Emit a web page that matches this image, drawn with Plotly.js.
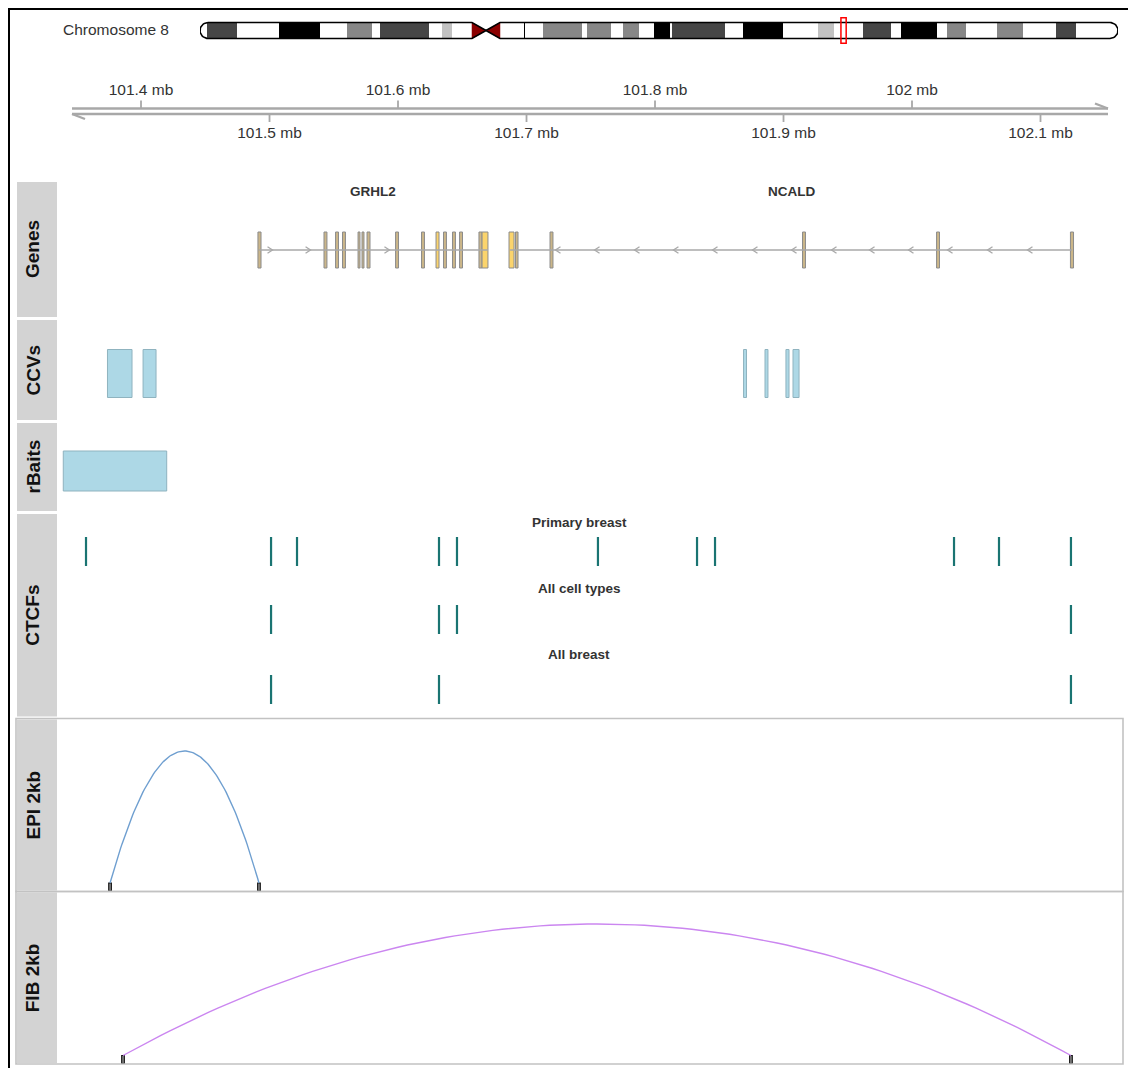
<!DOCTYPE html>
<html><head><meta charset="utf-8">
<script src="https://cdn.plot.ly/plotly-3.0.1.min.js"></script>
<style>html,body{margin:0;padding:0;background:#fff}</style>
</head><body><div id="chart" style="width:1128px;height:1068px"></div>
<script>
// ================= DATA =================
const chromosomeName = 'Chromosome 8';
const chromLength = 145.14; // Mb
const bandStart = [0, 1.11, 5.85, 12.49, 18.97, 23.24, 27.19, 28.46, 36.21, 38.26, 39.84, 43.00, 45.22, 47.43, 51.15, 51.46, 54.23, 60.40, 61.19, 64.98, 66.88, 69.41, 71.78, 74.31, 74.62, 83.00, 85.85, 92.17, 97.71, 100.24, 104.82, 109.25, 110.83, 116.52, 118.10, 121.11, 126.01, 130.12, 135.34, 138.50];
const bandEnd   = [1.11, 5.85, 12.49, 18.97, 23.24, 27.19, 28.46, 36.21, 38.26, 39.84, 43.00, 45.22, 47.43, 51.15, 51.46, 54.23, 60.40, 61.19, 64.98, 66.88, 69.41, 71.78, 74.31, 74.62, 83.00, 85.85, 92.17, 97.71, 100.24, 104.82, 109.25, 110.83, 116.52, 118.10, 121.11, 126.01, 130.12, 135.34, 138.50, 145.14];
const bandStain = ['gneg','gpos75','gneg','gpos100','gneg','gpos50','gneg','gpos75','gneg','gpos25','gneg','acen','acen','gneg','gpos100','gneg','gpos50','gneg','gpos50','gneg','gpos50','gneg','gpos100','gneg','gpos75','gneg','gpos100','gneg','gpos25','gneg','gpos75','gneg','gpos100','gneg','gpos50','gneg','gpos50','gneg','gpos75','gneg'];

const viewRange = [101.3354, 102.1642]; // Mb shown in the tracks
const axisTicksTop = [101.4, 101.6, 101.8, 102.0];
const axisTicksBottom = [101.5, 101.7, 101.9, 102.1];

const geneNames = ['GRHL2', 'NCALD'];
const geneStart = [101.4918, 101.6872];
const geneEnd = [101.6700, 102.1245];
const geneStrand = ['+', '-'];

const exonGene  = [0,0,0,0,0,0,0,0,0,0,0,0,0,0,0,1,1,1,1,1,1];
const exonStart = [101.4910, 101.5424, 101.5514, 101.5568, 101.5689, 101.5720, 101.5759, 101.5981, 101.6183, 101.6296, 101.6354, 101.6424, 101.6479, 101.6630, 101.6654, 101.6864, 101.6914, 101.7183, 101.9148, 102.0191, 102.1233];
const exonEnd   = [101.4934, 101.5447, 101.5537, 101.5591, 101.5704, 101.5735, 101.5782, 101.6004, 101.6206, 101.6319, 101.6377, 101.6447, 101.6502, 101.6654, 101.6700, 101.6903, 101.6934, 101.7206, 101.9171, 102.0214, 102.1257];
const exonIsUtr = [0,0,0,0,0,0,0,0,0,1,0,0,0,0,1,1,0,0,0,0,0];

const strandArrowGene = [0,0,0,1,1,1,1,1,1,1,1,1,1,1,1,1];
const strandArrowPos  = [101.5004, 101.5300, 101.5914, 101.7245, 101.7549, 101.7860, 101.8163, 101.8467, 101.8778, 101.9082, 101.9393, 101.9689, 101.9992, 102.0296, 102.0607, 102.0918];

const ccvStart = [101.3739, 101.4016, 101.8689, 101.8856, 101.9019, 101.9074];
const ccvEnd   = [101.3930, 101.4117, 101.8712, 101.8879, 101.9043, 101.9121];

const rbaitStart = [101.3395];
const rbaitEnd   = [101.4200];

const ctcfGroupNames = ['Primary breast', 'All cell types', 'All breast'];
const ctcfPrimaryBreast = [101.3572, 101.5012, 101.5214, 101.6319, 101.6459, 101.7556, 101.8327, 101.8467, 102.0327, 102.0677, 102.1237];
const ctcfAllCellTypes  = [101.5012, 101.6319, 101.6459, 102.1237];
const ctcfAllBreast     = [101.5012, 101.6319, 102.1237];

const epiAnchor1 = [101.3759];
const epiAnchor2 = [101.4918];
const fibAnchor1 = [101.3860];
const fibAnchor2 = [102.1237];
const anchorWidth = 0.002; // 2kb bins

const trackNames = ['Genes', 'CCVs', 'rBaits', 'CTCFs', 'EPI 2kb', 'FIB 2kb'];

// ================= LAYOUT HELPERS =================
const W = 1128, H = 1068;
const FONT = 'Liberation Sans, Arial, Helvetica, sans-serif';
const fx = p => p / W;
const fy = p => 1 - p / H;
const DX0 = 58, DX1 = 1123;
const pxPerMb = (DX1 - DX0) / (viewRange[1] - viewRange[0]);
const mbOf = px => px / pxPerMb;
const IX0 = 200, IX1 = 1118;
const ideoScale = (IX1 - IX0) / chromLength;

function pxAxis(top, bottom) {
  return {domain: [fy(bottom), fy(top)], range: [bottom, top], visible: false, fixedrange: true, anchor: 'x'};
}

const traces = [], shapes = [], annotations = [];
const base = {hoverinfo: 'skip', showlegend: false};

// ================= IDEOGRAM =================
const stainColor = {gneg: '#ffffff', gpos25: '#c2c2c2', gpos50: '#878787', gpos75: '#464646', gpos100: '#000000', acen: '#8b0000'};
const plainIdx = bandStain.map((s, i) => i).filter(i => bandStain[i] !== 'acen');
traces.push(Object.assign({
  type: 'bar', orientation: 'h', xaxis: 'x2', yaxis: 'y2',
  base: plainIdx.map(i => bandStart[i]),
  x: plainIdx.map(i => bandEnd[i] - bandStart[i]),
  y: plainIdx.map(() => 0.5), width: plainIdx.map(() => 1),
  marker: {color: plainIdx.map(i => stainColor[bandStain[i]]), line: {width: 0}}
}, base));
const acenIdx = bandStain.map((s, i) => i).filter(i => bandStain[i] === 'acen');
const cenS = bandStart[acenIdx[0]], cenM = bandEnd[acenIdx[0]], cenE = bandEnd[acenIdx[acenIdx.length - 1]];
traces.push(Object.assign({type: 'scatter', mode: 'lines', xaxis: 'x2', yaxis: 'y2', x: [cenS, cenS, cenM, cenS], y: [0, 1, 0.5, 0], fill: 'toself', fillcolor: stainColor.acen, line: {width: 0.5, color: stainColor.acen}}, base));
traces.push(Object.assign({type: 'scatter', mode: 'lines', xaxis: 'x2', yaxis: 'y2', x: [cenE, cenE, cenM, cenE], y: [0, 1, 0.5, 0], fill: 'toself', fillcolor: stainColor.acen, line: {width: 0.5, color: stainColor.acen}}, base));
// outline with rounded caps and centromere pinch
(function () {
  const capW = 8 / ideoScale;
  const ox = [], oy = [];
  for (let k = 0; k <= 20; k++) { const a = Math.PI / 2 + Math.PI * k / 20; ox.push(capW + capW * Math.cos(a)); oy.push(0.5 + 0.5 * Math.sin(a)); }
  ox.push(cenS, cenM, cenE, chromLength - capW); oy.push(0, 0.5, 0, 0);
  for (let k = 0; k <= 20; k++) { const a = -Math.PI / 2 + Math.PI * k / 20; ox.push(chromLength - capW + capW * Math.cos(a)); oy.push(0.5 + 0.5 * Math.sin(a)); }
  ox.push(cenE, cenM, cenS, capW); oy.push(1, 0.5, 1, 1);
  traces.push(Object.assign({type: 'scatter', mode: 'lines', xaxis: 'x2', yaxis: 'y2', x: ox, y: oy, line: {color: '#000', width: 1.6}}, base));
})();
shapes.push({type: 'rect', xref: 'x2', yref: 'y2', x0: viewRange[0], x1: viewRange[1], y0: -0.3, y1: 1.3, line: {color: '#ff0000', width: 1.5}, fillcolor: 'rgba(0,0,0,0)'});
annotations.push({xref: 'paper', yref: 'paper', x: fx(171), y: fy(30), xanchor: 'right', yanchor: 'middle', showarrow: false, text: chromosomeName, font: {family: FONT, size: 15.5, color: '#333'}});

// ================= GENOME AXIS =================
const AX_TOP = 108.5, AX_BOT = 114;
const axStart = viewRange[0] + mbOf(14), axEnd = viewRange[1] - mbOf(15);
const axColor = '#a8a8a8';
traces.push(Object.assign({type: 'scatter', mode: 'lines', xaxis: 'x', yaxis: 'y8',
  x: [axStart, axEnd, null, axStart, axEnd, null, axEnd, axEnd - mbOf(13), null, axStart, axStart + mbOf(13)],
  y: [AX_TOP, AX_TOP, null, AX_BOT, AX_BOT, null, AX_TOP, AX_TOP - 5, null, AX_BOT, AX_BOT + 5],
  line: {color: axColor, width: 2.4}}, base));
(function () {
  const tx = [], ty = [];
  axisTicksTop.forEach(t => { tx.push(t, t, null); ty.push(AX_TOP, AX_TOP - 8, null); });
  axisTicksBottom.forEach(t => { tx.push(t, t, null); ty.push(AX_BOT, AX_BOT + 8, null); });
  traces.push(Object.assign({type: 'scatter', mode: 'lines', xaxis: 'x', yaxis: 'y8', x: tx, y: ty, line: {color: axColor, width: 1.8}}, base));
})();
const tickLabel = t => (+t.toFixed(1)) + ' mb';
traces.push(Object.assign({type: 'scatter', mode: 'text', xaxis: 'x', yaxis: 'y8', x: axisTicksTop, y: axisTicksTop.map(() => 91.5), text: axisTicksTop.map(tickLabel), textposition: 'middle center', textfont: {family: FONT, size: 15.5, color: '#333'}, cliponaxis: false}, base));
traces.push(Object.assign({type: 'scatter', mode: 'text', xaxis: 'x', yaxis: 'y8', x: axisTicksBottom, y: axisTicksBottom.map(() => 134.5), text: axisTicksBottom.map(tickLabel), textposition: 'middle center', textfont: {family: FONT, size: 15.5, color: '#333'}, cliponaxis: false}, base));

// ================= GENES =================
const GENE_Y = 250, EXON_H = 36;
const geneColor = '#a9a9a9';
(function () {
  const lx = [], ly = [];
  geneNames.forEach((g, i) => { lx.push(geneStart[i], geneEnd[i], null); ly.push(GENE_Y, GENE_Y, null); });
  traces.push(Object.assign({type: 'scatter', mode: 'lines', xaxis: 'x', yaxis: 'y', x: lx, y: ly, line: {color: geneColor, width: 1.5}}, base));
  const ax = [], ay = [];
  strandArrowPos.forEach((p, i) => {
    const s = geneStrand[strandArrowGene[i]] === '+' ? -1 : 1;
    const tip = p - s * mbOf(2.5), tail = p + s * mbOf(2.5);
    ax.push(tail, tip, tail, null); ay.push(GENE_Y - 3.3, GENE_Y, GENE_Y + 3.3, null);
  });
  traces.push(Object.assign({type: 'scatter', mode: 'lines', xaxis: 'x', yaxis: 'y', x: ax, y: ay, line: {color: geneColor, width: 1.3}}, base));
  [0, 1].forEach(kind => {
    const idx = exonStart.map((s, i) => i).filter(i => exonIsUtr[i] === kind);
    traces.push(Object.assign({type: 'bar', orientation: 'h', xaxis: 'x', yaxis: 'y',
      base: idx.map(i => exonStart[i]), x: idx.map(i => exonEnd[i] - exonStart[i]),
      y: idx.map(() => GENE_Y), width: idx.map(() => EXON_H),
      marker: {color: kind ? '#fbd46c' : '#cbb689', line: {color: '#8c8c8c', width: 1}}}, base));
  });
  geneNames.forEach((g, i) => annotations.push({xref: 'x', yref: 'y', x: (geneStart[i] + geneEnd[i]) / 2, y: 191.5, xanchor: 'center', yanchor: 'middle', text: '<b>' + g + '</b>', showarrow: false, font: {family: FONT, size: 13.5, color: '#333'}}));
})();

// ================= CCVs / rBaits =================
const blueFill = '#add8e6', blueLine = '#8fb3bf';
traces.push(Object.assign({type: 'bar', orientation: 'h', xaxis: 'x', yaxis: 'y3', base: ccvStart, x: ccvStart.map((s, i) => ccvEnd[i] - s), y: ccvStart.map(() => 373.5), width: ccvStart.map(() => 48), marker: {color: blueFill, line: {color: blueLine, width: 1}}}, base));
traces.push(Object.assign({type: 'bar', orientation: 'h', xaxis: 'x', yaxis: 'y4', base: rbaitStart, x: rbaitStart.map((s, i) => rbaitEnd[i] - s), y: rbaitStart.map(() => 471), width: rbaitStart.map(() => 40), marker: {color: blueFill, line: {color: blueLine, width: 1}}}, base));

// ================= CTCFs =================
const ctcfRows = [ctcfPrimaryBreast, ctcfAllCellTypes, ctcfAllBreast];
const ctcfRowY = [[537, 566], [605, 634], [675, 704]];
const ctcfLabelY = [522.5, 588, 654];
ctcfRows.forEach((row, r) => {
  const x = [], y = [];
  row.forEach(p => { x.push(p, p, null); y.push(ctcfRowY[r][0], ctcfRowY[r][1], null); });
  traces.push(Object.assign({type: 'scatter', mode: 'lines', xaxis: 'x', yaxis: 'y5', x: x, y: y, line: {color: '#1a7472', width: 2.2}}, base));
  annotations.push({xref: 'paper', yref: 'paper', x: fx(579), y: fy(ctcfLabelY[r]), xanchor: 'center', yanchor: 'middle', text: '<b>' + ctcfGroupNames[r] + '</b>', showarrow: false, font: {family: FONT, size: 13.5, color: '#333'}});
});

// ================= INTERACTION ARCS =================
function addArcs(a1, a2, yaxis, baseY, peakY, color) {
  const x = [], y = [];
  a1.forEach((a, i) => {
    const b = a2[i];
    for (let k = 0; k <= 100; k++) { const t = k / 100; x.push(a + (b - a) * t); y.push(baseY - (baseY - peakY) * 4 * t * (1 - t)); }
    x.push(null); y.push(null);
  });
  traces.push(Object.assign({type: 'scatter', mode: 'lines', xaxis: 'x', yaxis: yaxis, x: x, y: y, line: {color: color, width: 1.4}}, base));
  const anc = a1.concat(a2);
  traces.push(Object.assign({type: 'bar', orientation: 'h', xaxis: 'x', yaxis: yaxis, base: anc.map(p => p - anchorWidth / 2), x: anc.map(() => anchorWidth), y: anc.map(() => baseY + 4), width: anc.map(() => 8), marker: {color: '#9a9a9a', line: {color: '#111', width: 1.2}}}, base));
}
addArcs(epiAnchor1, epiAnchor2, 'y6', 883, 751, '#6f9fd0');
addArcs(fibAnchor1, fibAnchor2, 'y7', 1055.5, 924, '#cb86f0');

// ================= PANELS / FRAMES =================
const panelY = [[182, 317], [320, 420], [423, 511], [514, 716.5], [719.5, 890.5], [892.5, 1063]];
panelY.forEach((p, i) => {
  shapes.push({type: 'rect', xref: 'paper', yref: 'paper', x0: fx(17), x1: fx(57), y0: fy(p[1]), y1: fy(p[0]), fillcolor: '#d3d3d3', line: {width: 0}, layer: 'below'});
  annotations.push({xref: 'paper', yref: 'paper', x: fx(32.5), y: fy((p[0] + p[1]) / 2), xanchor: 'center', yanchor: 'middle', text: '<b>' + trackNames[i] + '</b>', textangle: -90, showarrow: false, font: {family: FONT, size: 19, color: '#111'}});
});
shapes.push({type: 'rect', xref: 'paper', yref: 'paper', x0: fx(16), x1: fx(1123), y0: fy(891.5), y1: fy(718.5), line: {color: '#c2c2c2', width: 1.6}, fillcolor: 'rgba(0,0,0,0)'});
shapes.push({type: 'rect', xref: 'paper', yref: 'paper', x0: fx(16), x1: fx(1123), y0: fy(1064), y1: fy(891.5), line: {color: '#c2c2c2', width: 1.6}, fillcolor: 'rgba(0,0,0,0)'});
shapes.push({type: 'rect', xref: 'paper', yref: 'paper', x0: fx(9), x1: fx(1135), y0: fy(1075), y1: fy(9), line: {color: '#000', width: 2}, fillcolor: 'rgba(0,0,0,0)'});

const layout = {
  width: W, height: H, margin: {l: 0, r: 0, t: 0, b: 0}, paper_bgcolor: '#fff', plot_bgcolor: 'rgba(0,0,0,0)',
  showlegend: false, barmode: 'overlay', bargap: 0,
  xaxis: {domain: [fx(DX0), fx(DX1)], range: viewRange, visible: false, fixedrange: true, anchor: 'y'},
  xaxis2: {domain: [fx(IX0), fx(IX1)], range: [0, chromLength], visible: false, fixedrange: true, anchor: 'y2'},
  yaxis2: {domain: [fy(44), fy(17)], range: [-0.35, 1.35], visible: false, fixedrange: true, anchor: 'x2'},
  yaxis: pxAxis(182, 317),
  yaxis3: pxAxis(320, 420),
  yaxis4: pxAxis(423, 511),
  yaxis5: pxAxis(514, 716),
  yaxis6: pxAxis(718, 891),
  yaxis7: pxAxis(891, 1064),
  yaxis8: pxAxis(75, 150),
  shapes: shapes, annotations: annotations
};
Plotly.newPlot('chart', traces, layout, {staticPlot: true, displayModeBar: false});
</script></body></html>
